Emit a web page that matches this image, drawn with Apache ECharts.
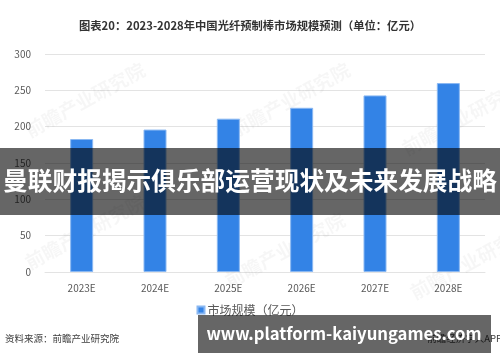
<!DOCTYPE html>
<html>
<head>
<meta charset="utf-8">
<script src="https://cdn.jsdelivr.net/npm/echarts@6/dist/echarts.min.js"></script>
<style>
html,body{margin:0;padding:0;background:#fff;}
#chart{width:500px;height:362px;}
</style>
</head>
<body>
<div id="chart"></div>
<script>
var categories = ['2023E', '2024E', '2025E', '2026E', '2027E', '2028E'];
var marketSize = [183, 196, 211, 226, 243, 260];
var seriesName = '市场规模（亿元）';
var titleText = '图表20：2023-2028年中国光纤预制棒市场规模预测（单位：亿元）';
var sourceText = '资料来源：前瞻产业研究院';
var bannerText = '曼联财报揭示俱乐部运营现状及未来发展战略';
var siteText = 'www.platform-kaiyungames.com';
var watermarkText = '前瞻产业研究院';

var chart = echarts.init(document.getElementById('chart'), null, {renderer: 'canvas'});
var font = '"Noto Sans CJK SC", "Noto Sans", sans-serif';

var wmPos = [[85, 100], [290, 100], [462, 118], [85, 232], [285, 250], [470, 262]];
var watermarks = wmPos.map(function (p) {
  return {
    type: 'text', x: p[0], y: p[1], rotation: 0.5, z: 1,
    style: {text: watermarkText, fill: 'rgba(0,0,0,0.035)', font: 'bold 19px ' + font, align: 'center', verticalAlign: 'middle'}
  };
});

chart.setOption({
  animation: false,
  backgroundColor: '#fff',
  title: {
    text: titleText, left: 'center', top: 15,
    textStyle: {fontSize: 11.3, fontWeight: 'bold', color: '#333', fontFamily: font}
  },
  grid: {left: 45, right: 15, top: 54, bottom: 90, containLabel: false},
  legend: {
    data: [seriesName], top: 299, left: 'center', itemWidth: 7, itemHeight: 7, icon: 'rect', itemGap: 3,
    textStyle: {fontSize: 12, color: '#595959', fontFamily: font, padding: [0, 0, 0, -2]}
  },
  xAxis: {
    type: 'category', data: categories,
    axisLine: {show: true, lineStyle: {color: '#e3e3e3', width: 1}},
    axisTick: {show: false},
    axisLabel: {fontSize: 10, color: '#595959', margin: 11, fontFamily: font}
  },
  yAxis: {
    type: 'value', min: 0, max: 300, interval: 50,
    axisLine: {show: false}, axisTick: {show: false},
    axisLabel: {fontSize: 10, color: '#595959', margin: 14, fontFamily: font},
    splitLine: {lineStyle: {color: '#e3e3e3', width: 1}}
  },
  series: [{
    name: seriesName, type: 'bar', data: marketSize, barWidth: 23, z: 3,
    itemStyle: {color: '#3383e6', borderColor: '#8ab8f2', borderWidth: 1}
  }],
  graphic: watermarks.concat([
    {type: 'text', x: 5, y: 338, z: 5,
      style: {text: sourceText, fill: '#404040', font: '9.5px ' + font, verticalAlign: 'middle'}},
    {type: 'text', x: 502, y: 338, z: 5,
      style: {text: '前瞻经济学人APP', fill: '#404040', font: '9.5px ' + font, align: 'right', verticalAlign: 'middle'}},
    {type: 'rect', shape: {x: 0, y: 148, width: 500, height: 67}, z: 50,
      style: {fill: 'rgba(0,0,0,0.6)'}},
    {type: 'text', x: 250, y: 181, z: 51,
      style: {text: bannerText, fill: '#fff', font: 'bold 24.7px ' + font, align: 'center', verticalAlign: 'middle'}},
    {type: 'rect', shape: {x: 198, y: 315, width: 293, height: 38}, z: 50,
      style: {fill: 'rgba(0,0,0,0.6)'}},
    {type: 'text', x: 344, y: 334, z: 51,
      style: {text: siteText, fill: '#fff', font: 'bold 16.7px ' + font, align: 'center', verticalAlign: 'middle'}}
  ])
});
</script>
</body>
</html>
